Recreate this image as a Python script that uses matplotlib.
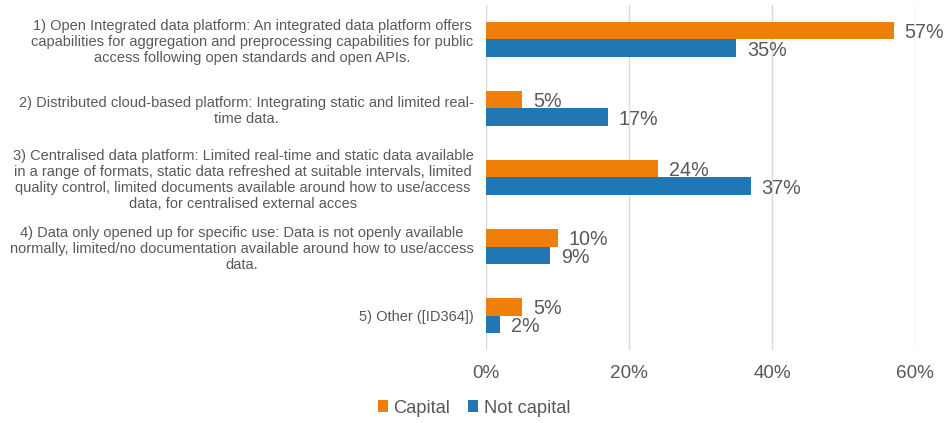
import matplotlib
matplotlib.use("Agg")
import matplotlib.pyplot as plt
import numpy as np

categories = [
    "1) Open Integrated data platform: An integrated data platform offers\ncapabilities for aggregation and preprocessing capabilities for public\naccess following open standards and open APIs.",
    "2) Distributed cloud-based platform: Integrating static and limited real-\ntime data.",
    "3) Centralised data platform: Limited real-time and static data available\nin a range of formats, static data refreshed at suitable intervals, limited\nquality control, limited documents available around how to use/access\ndata, for centralised external acces",
    "4) Data only opened up for specific use: Data is not openly available\nnormally, limited/no documentation available around how to use/access\ndata.",
    "5) Other ([ID364])",
]
capital = [0.57, 0.05, 0.24, 0.10, 0.05]
not_capital = [0.35, 0.17, 0.37, 0.09, 0.02]
series_names = ["Capital", "Not capital"]
xticks = [0, 0.2, 0.4, 0.6]
xtick_labels = ["0%", "20%", "40%", "60%"]

plt.rcParams['font.family'] = ['Liberation Sans', 'DejaVu Sans']
orange = "#F07F09"
blue = "#2177B4"
text_col = "#595959"

fig = plt.figure(figsize=(9.49, 4.23), dpi=100)
ax = fig.add_axes([486/949, 1-350/423, (915-486)/949, 345/423])

y = np.arange(len(categories))
h = 0.255
b1 = ax.barh(y - h/2, capital, height=h, color=orange, label=series_names[0])
b2 = ax.barh(y + h/2, not_capital, height=h, color=blue, label=series_names[1])

for bars, vals in [(b1, capital), (b2, not_capital)]:
    for bar, v in zip(bars, vals):
        ax.annotate(f"{v*100:.0f}%", (bar.get_width(), bar.get_y() + bar.get_height()/2),
                    xytext=(11, -2), textcoords="offset pixels",
                    ha="left", va="center", fontsize=14.2, color=text_col)

ax.set_xlim(0, 0.6)
ax.set_ylim(len(categories) - 0.5, -0.5)
ax.set_xticks(xticks)
ax.set_xticklabels(xtick_labels, fontsize=13.6, color=text_col)
ax.set_yticks(y)
ax.set_yticklabels(categories, fontsize=10.5, color=text_col, multialignment="center")
ax.tick_params(axis="both", length=0)
ax.tick_params(axis="x", pad=11)
ax.tick_params(axis="y", pad=9)
ax.grid(axis="x", color="#D9D9D9", linewidth=1)
ax.set_axisbelow(True)
for s in ax.spines.values():
    s.set_visible(False)

leg = fig.legend(handles=[b1, b2], labels=series_names, loc="center left",
                 bbox_to_anchor=(361/949, 1-408/423), ncol=2, frameon=False,
                 fontsize=13.2, handlelength=0.55, handleheight=0.55, handletextpad=0.3,
                 columnspacing=1.0)
for t in leg.get_texts():
    t.set_color(text_col)

fig.savefig("out.png", dpi=100)
